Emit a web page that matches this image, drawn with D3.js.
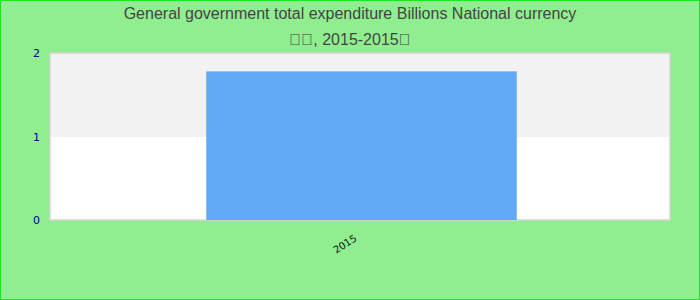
<!DOCTYPE html>
<html><head><meta charset="utf-8">
<script src="https://cdn.jsdelivr.net/npm/d3@7"></script>
<style>body{margin:0;}svg{display:block;}</style>
</head><body>
<script>
const categories = ["2015"];
const values = [1.78];
const yTicks = [0, 1, 2];
const titleLines = ["General government total expenditure Billions National currency", "\uE000\uE000, 2015-2015\uE000"];

const W = 700, H = 300;
const m = {l: 50, r: 30, t: 53, b: 80};
const svg = d3.select("body").append("svg").attr("width", W).attr("height", H);
svg.append("rect").attr("x", 0.5).attr("y", 0.5).attr("width", W - 1).attr("height", H - 1)
  .attr("fill", "#90ee90").attr("stroke", "#1ee61e");

const x = d3.scaleBand().domain(categories).range([m.l + 1, W - m.r + 2]).paddingInner(0).paddingOuter(0.5);
const y = d3.scaleLinear().domain([0, 2]).range([H - m.b, m.t]);

// plot background: white base, alternating grey band on top
svg.append("rect").attr("x", m.l).attr("y", m.t).attr("width", W - m.r - m.l).attr("height", H - m.b - m.t)
  .attr("fill", "#ffffff");
const bands = [[1, 2]];
svg.selectAll(".band").data(bands).enter().append("rect")
  .attr("x", m.l).attr("width", W - m.r - m.l)
  .attr("y", d => Math.round(y(d[1]))).attr("height", d => Math.round(y(d[0])) - Math.round(y(d[1])))
  .attr("fill", "#f2f2f2").attr("shape-rendering", "crispEdges");
svg.append("rect").attr("x", m.l).attr("y", m.t).attr("width", W - m.r - m.l).attr("height", H - m.b - m.t)
  .attr("fill", "none").attr("stroke", "#d4d4d4").attr("stroke-width", 1.5);

svg.selectAll(".bar").data(values).enter().append("rect")
  .attr("x", (d, i) => x(categories[i])).attr("width", x.bandwidth())
  .attr("y", d => y(d)).attr("height", d => y(0) - y(d))
  .attr("fill", "#62aaf5");

// y axis
const ya = svg.append("g").attr("transform", `translate(${m.l},0)`)
  .call(d3.axisLeft(y).tickValues(yTicks).tickFormat(d3.format("d")).tickSize(0).tickPadding(10));
ya.select(".domain").remove();
ya.selectAll("text").attr("fill", "#00008b").style("font-family", "DejaVu Sans, sans-serif").style("font-size", "11px");

// x axis
const xa = svg.append("g").attr("transform", `translate(0,${H - m.b})`)
  .call(d3.axisBottom(x).tickSize(0));
xa.select(".domain").remove();
xa.selectAll("text").attr("fill", "#111").style("font-family", "DejaVu Sans, sans-serif").style("font-size", "10px")
  .attr("text-anchor", "end").attr("dy", null).attr("y", 0)
  .attr("transform", "translate(-4,20) rotate(-33)");

svg.selectAll(".title").data(titleLines).enter().append("text")
  .attr("x", W / 2).attr("y", (d, i) => 19 + i * 26)
  .attr("text-anchor", "middle").attr("fill", "#444")
  .style("font-family", "Liberation Sans, Arial, sans-serif").style("font-size", "16px")
  .text(d => d);
</script>
</body></html>
